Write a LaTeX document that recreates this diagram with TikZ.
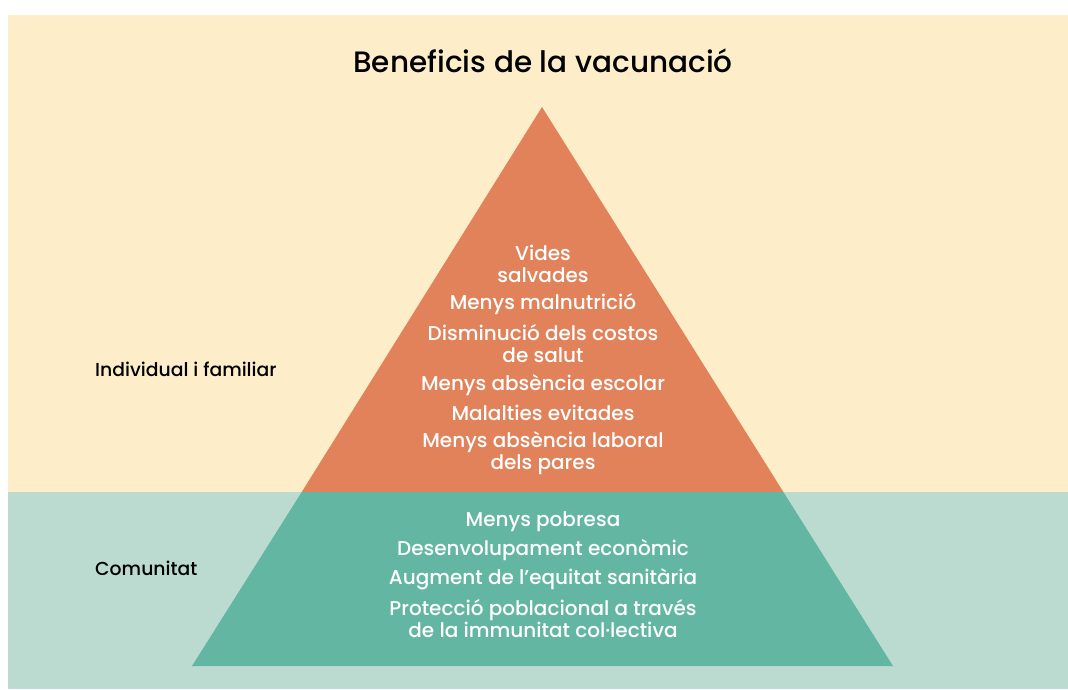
\documentclass[tikz,border=0pt]{standalone}
\usepackage{fontspec}
\setmainfont{Poppins}
\newfontfamily\medfont{Poppins Medium}
\definecolor{creambg}{HTML}{FEEDC9}
\definecolor{tealbg}{HTML}{BBDBD0}
\definecolor{orangetri}{HTML}{E2825A}
\definecolor{tealtri}{HTML}{63B7A2}
\tikzset{
  item/.style={text=white, font=\medfont\fontsize{20}{22}\selectfont, align=center, inner sep=0pt},
  side/.style={text=black, font=\medfont\fontsize{18.8}{22}\selectfont, anchor=west, inner sep=0pt},
  heading/.style={text=black, font=\medfont\fontsize{29.5}{32}\selectfont, inner sep=0pt}
}
\begin{document}
\begin{tikzpicture}[x=1pt,y=-1pt]
\useasboundingbox (0,0) rectangle (1068,689);
\fill[white] (0,0) rectangle (1068,689);
\fill[creambg] (8,15) rectangle (1068,492);
\fill[tealbg] (8,492) rectangle (1068,689);
% pyramid
\coordinate (apex) at (542,107);
\coordinate (ml) at (301.7,492);
\coordinate (mr) at (783.4,492);
\coordinate (bl) at (192,666);
\coordinate (br) at (893,666);
\fill[orangetri] (apex) -- (mr) -- (ml) -- cycle;
\fill[tealtri] (ml) -- (mr) -- (br) -- (bl) -- cycle;
% title
\node[heading] (title) at (543,61) {Beneficis de la vacunació};
% side labels
\node[side] (indiv) at (95,369) {Individual i familiar};
\node[side] (comu) at (95,568) {Comunitat};
% orange items
\node[item] (i1) at (543,264) {Vides\\salvades};
\node[item] (i2) at (543,304) {Menys malnutrició};
\node[item] (i3) at (543,344) {Disminució dels costos\\de salut};
\node[item] (i4) at (543,385) {Menys absència escolar};
\node[item] (i5) at (543,413) {Malalties evitades};
\node[item] (i6) at (543,453) {Menys absència laboral\\dels pares};
% teal items
\node[item] (c1) at (543,522) {Menys pobresa};
\node[item] (c2) at (543,550) {Desenvolupament econòmic};
\node[item] (c3) at (543,579) {Augment de l’equitat sanitària};
\node[item] (c4) at (543,619) {Protecció poblacional a través\\de la immunitat col·lectiva};
\end{tikzpicture}
\end{document}
